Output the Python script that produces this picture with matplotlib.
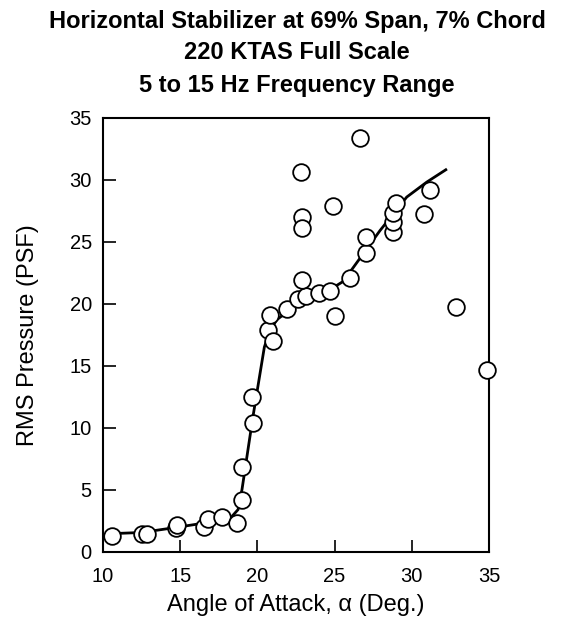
import numpy as np
import matplotlib
matplotlib.use("Agg")
import matplotlib.pyplot as plt

plt.rcParams['font.family'] = ['Liberation Sans', 'DejaVu Sans']

# measured points: angle of attack (deg) and RMS pressure (psf)
alpha_pts = [10.56, 12.5, 12.83, 14.7, 14.8, 16.56, 16.8, 17.73, 18.66, 18.98,
             18.98, 19.67, 19.73, 20.66, 20.8, 20.99, 21.9, 22.65, 23.15, 22.89,
             22.82, 22.89, 22.89, 23.97, 24.7, 25.03, 24.88, 26.0, 26.64, 27.03,
             27.03, 28.8, 28.76, 28.76, 29.0, 30.79, 31.18, 32.86, 34.85]
rms_pts = [1.27, 1.43, 1.43, 1.89, 2.15, 2.0, 2.6, 2.82, 2.34, 4.2,
           6.8, 12.45, 10.4, 17.9, 19.1, 17.0, 19.55, 20.35, 20.6, 21.9,
           30.6, 27.0, 26.1, 20.9, 21.05, 19.0, 27.9, 22.05, 33.4, 24.1,
           25.35, 25.8, 26.6, 27.3, 28.1, 27.2, 29.2, 19.76, 14.65]

# faired trend curve
alpha_fit = [10.45, 12.5, 14.7, 16.5, 18.1, 18.75, 19.0, 19.7, 20.45, 20.8,
             21.25, 22.2, 23.2, 24.27, 25.56, 26.43, 27.94, 29.67, 30.96, 32.2]
rms_fit = [1.45, 1.55, 1.95, 2.3, 2.5, 3.4, 5.0, 10.8, 16.5, 17.8,
           18.7, 19.6, 20.3, 20.8, 21.8, 23.3, 25.9, 28.6, 29.8, 30.8]

title_lines = ['Horizontal Stabilizer at 69% Span, 7% Chord',
               '220 KTAS Full Scale',
               '5 to 15 Hz Frequency Range']

fig = plt.figure(figsize=(5.68, 6.29), dpi=100)
ax = fig.add_axes([0.1813, 0.1229, 0.6797, 0.6900])

ax.plot(alpha_fit, rms_fit, color='black', lw=2.0, zorder=2)
ax.plot(alpha_pts, rms_pts, 'o', ms=12, mfc='white', mec='black', mew=1.3,
        linestyle='none', zorder=3, clip_on=False)

ax.set_xlim(10, 35)
ax.set_ylim(0, 35)
ax.set_xticks([10, 15, 20, 25, 30, 35])
ax.set_yticks([0, 5, 10, 15, 20, 25, 30, 35])
ax.tick_params(direction='in', length=9, width=1.2, labelsize=14.5,
               top=False, right=False)
ax.tick_params(axis='x', pad=11)
ax.tick_params(axis='y', pad=8)
for s in ax.spines.values():
    s.set_linewidth(1.5)

ax.set_xlabel('Angle of Attack, α (Deg.)', fontsize=17, va='center')
ax.set_ylabel('RMS Pressure (PSF)', fontsize=17, va='center')
ax.xaxis.set_label_coords(0.5, -0.123)
ax.yaxis.set_label_coords(-0.194, 0.5)

for y, line in zip([0.9666, 0.9173, 0.8640], title_lines):
    fig.text(0.523, y, line, ha='center', va='center',
             fontsize=17, fontweight='bold')

fig.savefig('out.png', dpi=100)
